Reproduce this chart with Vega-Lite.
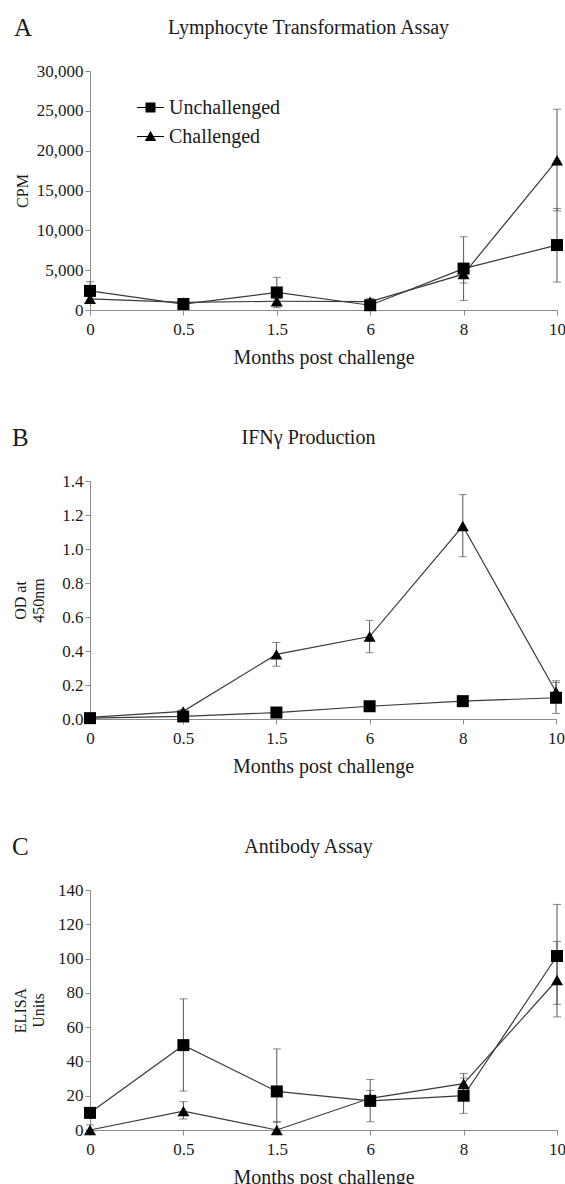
{
  "$schema": "https://vega.github.io/schema/vega-lite/v6.json",
  "padding": {"left": 12, "top": 16, "right": 8, "bottom": 0},
  "background": "white",
  "datasets": {
    "d": [
      {"panel": "A", "month": "0", "group": "Unchallenged", "value": 2400, "lo": 1250, "hi": 3550},
      {"panel": "A", "month": "0.5", "group": "Unchallenged", "value": 750, "lo": 550, "hi": 950},
      {"panel": "A", "month": "1.5", "group": "Unchallenged", "value": 2200, "lo": 300, "hi": 4100},
      {"panel": "A", "month": "6", "group": "Unchallenged", "value": 600, "lo": 300, "hi": 900},
      {"panel": "A", "month": "8", "group": "Unchallenged", "value": 5200, "lo": 1200, "hi": 9200},
      {"panel": "A", "month": "10", "group": "Unchallenged", "value": 8150, "lo": 3500, "hi": 12750},
      {"panel": "A", "month": "0", "group": "Challenged", "value": 1400, "lo": 1100, "hi": 1700},
      {"panel": "A", "month": "0.5", "group": "Challenged", "value": 950, "lo": 650, "hi": 1250},
      {"panel": "A", "month": "1.5", "group": "Challenged", "value": 1100, "lo": 800, "hi": 1400},
      {"panel": "A", "month": "6", "group": "Challenged", "value": 1050, "lo": 650, "hi": 1450},
      {"panel": "A", "month": "8", "group": "Challenged", "value": 4500, "lo": 3400, "hi": 5600},
      {"panel": "A", "month": "10", "group": "Challenged", "value": 18800, "lo": 12450, "hi": 25200},
      {"panel": "B", "month": "0", "group": "Unchallenged", "value": 0.005, "lo": 0.0, "hi": 0.01},
      {"panel": "B", "month": "0.5", "group": "Unchallenged", "value": 0.015, "lo": 0.005, "hi": 0.025},
      {"panel": "B", "month": "1.5", "group": "Unchallenged", "value": 0.038, "lo": 0.028, "hi": 0.048},
      {"panel": "B", "month": "6", "group": "Unchallenged", "value": 0.075, "lo": 0.065, "hi": 0.085},
      {"panel": "B", "month": "8", "group": "Unchallenged", "value": 0.105, "lo": 0.085, "hi": 0.125},
      {"panel": "B", "month": "10", "group": "Unchallenged", "value": 0.125, "lo": 0.033, "hi": 0.215},
      {"panel": "B", "month": "0", "group": "Challenged", "value": 0.01, "lo": 0.005, "hi": 0.015},
      {"panel": "B", "month": "0.5", "group": "Challenged", "value": 0.045, "lo": 0.035, "hi": 0.055},
      {"panel": "B", "month": "1.5", "group": "Challenged", "value": 0.38, "lo": 0.31, "hi": 0.45},
      {"panel": "B", "month": "6", "group": "Challenged", "value": 0.485, "lo": 0.39, "hi": 0.58},
      {"panel": "B", "month": "8", "group": "Challenged", "value": 1.135, "lo": 0.955, "hi": 1.32},
      {"panel": "B", "month": "10", "group": "Challenged", "value": 0.16, "lo": 0.095, "hi": 0.225},
      {"panel": "C", "month": "0", "group": "Unchallenged", "value": 10, "lo": 7, "hi": 13},
      {"panel": "C", "month": "0.5", "group": "Unchallenged", "value": 49.5, "lo": 22.7, "hi": 76.5},
      {"panel": "C", "month": "1.5", "group": "Unchallenged", "value": 22.5, "lo": 4.5, "hi": 47.3},
      {"panel": "C", "month": "6", "group": "Unchallenged", "value": 17, "lo": 4.8, "hi": 29.5},
      {"panel": "C", "month": "8", "group": "Unchallenged", "value": 20, "lo": 9.7, "hi": 30.3},
      {"panel": "C", "month": "10", "group": "Unchallenged", "value": 101.5, "lo": 73.3, "hi": 131.6},
      {"panel": "C", "month": "0", "group": "Challenged", "value": 0, "lo": 0, "hi": 3},
      {"panel": "C", "month": "0.5", "group": "Challenged", "value": 11, "lo": 6.4, "hi": 16.5},
      {"panel": "C", "month": "1.5", "group": "Challenged", "value": 0, "lo": 0, "hi": 5},
      {"panel": "C", "month": "6", "group": "Challenged", "value": 18.5, "lo": 14, "hi": 23},
      {"panel": "C", "month": "8", "group": "Challenged", "value": 27, "lo": 21, "hi": 33},
      {"panel": "C", "month": "10", "group": "Challenged", "value": 87.5, "lo": 66, "hi": 110}
    ]
  },
  "config": {
    "view": {"stroke": null},
    "font": "Liberation Serif",
    "axis": {
      "grid": false,
      "domainColor": "#8c8c8c",
      "tickColor": "#8c8c8c",
      "labelFont": "Liberation Serif",
      "labelFontSize": 17,
      "labelColor": "#1a1a1a",
      "titleFont": "Liberation Serif",
      "titleFontSize": 16,
      "titleFontWeight": "normal",
      "titleColor": "#1a1a1a",
      "tickSize": 5
    },
    "axisX": {"labelAngle": 0, "labelPadding": 6},
    "title": {"font": "Liberation Serif", "fontWeight": "normal", "color": "#1a1a1a"},
    "legend": {"labelFont": "Liberation Serif", "labelColor": "#1a1a1a"}
  },
  "bounds": "flush",
  "spacing": 171,
  "vconcat": [
    {
      "width": 467,
      "height": 239,
      "title": {"text": "A", "anchor": "start", "frame": "bounds", "fontSize": 25, "offset": -24},
      "data": {"name": "d"},
      "transform": [{"filter": "datum.panel == 'A'"}],
      "resolve": {"axis": {"x": "independent"}, "scale": {"shape": "independent"}},
      "layer": [
        {
          "mark": {"type": "line", "color": "#3a3a3a", "strokeWidth": 1.2},
          "encoding": {
            "x": {"field": "month", "type": "ordinal", "sort": ["0", "0.5", "1.5", "6", "8", "10"], "scale": {"type": "point", "padding": 0},
                  "axis": {"orient": "top", "title": "Lymphocyte Transformation Assay", "titleFontSize": 20, "titlePadding": 34, "labels": false, "ticks": false, "domain": false, "titleX": 218}},
            "y": {"field": "value", "type": "quantitative", "scale": {"domain": [0, 30000]}, "title": "CPM",
                  "axis": {"values": [0, 5000, 10000, 15000, 20000, 25000, 30000], "format": ",.0f", "titleX": -60}},
            "detail": {"field": "group"}
          }
        },
        {
          "mark": {"type": "errorbar", "ticks": {"size": 8, "color": "#555555"}, "rule": {"color": "#555555", "strokeWidth": 1}},
          "encoding": {
            "x": {"field": "month", "type": "ordinal", "sort": ["0", "0.5", "1.5", "6", "8", "10"], "axis": null},
            "y": {"field": "lo", "type": "quantitative", "title": "CPM",
                  "axis": {"values": [0, 5000, 10000, 15000, 20000, 25000, 30000], "format": ",.0f", "titleX": -60}},
            "y2": {"field": "hi"}
          }
        },
        {
          "mark": {"type": "point", "filled": true, "color": "black", "opacity": 1, "size": 144},
          "encoding": {
            "x": {"field": "month", "type": "ordinal", "sort": ["0", "0.5", "1.5", "6", "8", "10"],
                  "axis": {"orient": "bottom", "title": "Months post challenge", "titleFontSize": 20, "titlePadding": 10}},
            "y": {"field": "value", "type": "quantitative", "title": "CPM",
                  "axis": {"values": [0, 5000, 10000, 15000, 20000, 25000, 30000], "format": ",.0f", "titleX": -60}},
            "shape": {"field": "group", "type": "nominal", "scale": {"domain": ["Unchallenged", "Challenged"], "range": ["square", "triangle-up"]}, "legend": null}
          }
        },
        {
          "transform": [{"filter": "false"}],
          "mark": {"type": "point", "filled": true, "color": "black", "opacity": 1},
          "encoding": {
            "shape": {"field": "group", "type": "nominal",
                      "scale": {"domain": ["Unchallenged", "Challenged"], "range": ["M-1,-0.045H1V0.045H-1ZM-0.37,-0.37H0.37V0.37H-0.37Z", "M-1,-0.045H1V0.045H-1ZM0,-0.42L0.42,0.33H-0.42Z"]},
                      "legend": {"title": null, "orient": "none", "legendX": 46, "legendY": 22, "labelFontSize": 20, "symbolSize": 729, "rowPadding": 4, "labelOffset": 4,
                                 "symbolFillColor": "black", "symbolOpacity": 1}}
          }
        }
      ]
    },
    {
      "width": 466,
      "height": 238,
      "title": {"text": "B", "anchor": "start", "frame": "bounds", "fontSize": 25, "offset": -24},
      "data": {"name": "d"},
      "transform": [{"filter": "datum.panel == 'B'"}],
      "resolve": {"axis": {"x": "independent"}},
      "layer": [
        {
          "mark": {"type": "line", "color": "#3a3a3a", "strokeWidth": 1.2},
          "encoding": {
            "x": {"field": "month", "type": "ordinal", "sort": ["0", "0.5", "1.5", "6", "8", "10"], "scale": {"type": "point", "padding": 0},
                  "axis": {"orient": "top", "title": "IFNγ Production", "titleFontSize": 20, "titlePadding": 34, "labels": false, "ticks": false, "domain": false, "titleX": 218}},
            "y": {"field": "value", "type": "quantitative", "scale": {"domain": [0, 1.4]}, "title": ["OD at", "450nm"],
                  "axis": {"values": [0, 0.2, 0.4, 0.6, 0.8, 1.0, 1.2, 1.4], "format": ".1f", "titleX": -62}},
            "detail": {"field": "group"}
          }
        },
        {
          "mark": {"type": "errorbar", "ticks": {"size": 8, "color": "#555555"}, "rule": {"color": "#555555", "strokeWidth": 1}},
          "encoding": {
            "x": {"field": "month", "type": "ordinal", "sort": ["0", "0.5", "1.5", "6", "8", "10"], "axis": null},
            "y": {"field": "lo", "type": "quantitative", "title": ["OD at", "450nm"],
                  "axis": {"values": [0, 0.2, 0.4, 0.6, 0.8, 1.0, 1.2, 1.4], "format": ".1f", "titleX": -62}},
            "y2": {"field": "hi"}
          }
        },
        {
          "mark": {"type": "point", "filled": true, "color": "black", "opacity": 1, "size": 144},
          "encoding": {
            "x": {"field": "month", "type": "ordinal", "sort": ["0", "0.5", "1.5", "6", "8", "10"],
                  "axis": {"orient": "bottom", "title": "Months post challenge", "titleFontSize": 20, "titlePadding": 10}},
            "y": {"field": "value", "type": "quantitative", "title": ["OD at", "450nm"],
                  "axis": {"values": [0, 0.2, 0.4, 0.6, 0.8, 1.0, 1.2, 1.4], "format": ".1f", "titleX": -62}},
            "shape": {"field": "group", "type": "nominal", "scale": {"domain": ["Unchallenged", "Challenged"], "range": ["square", "triangle-up"]}, "legend": null}
          }
        }
      ]
    },
    {
      "width": 467,
      "height": 240,
      "title": {"text": "C", "anchor": "start", "frame": "bounds", "fontSize": 25, "offset": -24},
      "data": {"name": "d"},
      "transform": [{"filter": "datum.panel == 'C'"}],
      "resolve": {"axis": {"x": "independent"}},
      "layer": [
        {
          "mark": {"type": "line", "color": "#3a3a3a", "strokeWidth": 1.2},
          "encoding": {
            "x": {"field": "month", "type": "ordinal", "sort": ["0", "0.5", "1.5", "6", "8", "10"], "scale": {"type": "point", "padding": 0},
                  "axis": {"orient": "top", "title": "Antibody Assay", "titleFontSize": 20, "titlePadding": 34, "labels": false, "ticks": false, "domain": false, "titleX": 218}},
            "y": {"field": "value", "type": "quantitative", "scale": {"domain": [0, 140]}, "title": ["ELISA", "Units"],
                  "axis": {"values": [0, 20, 40, 60, 80, 100, 120, 140], "titleX": -62}},
            "detail": {"field": "group"}
          }
        },
        {
          "mark": {"type": "errorbar", "ticks": {"size": 8, "color": "#555555"}, "rule": {"color": "#555555", "strokeWidth": 1}},
          "encoding": {
            "x": {"field": "month", "type": "ordinal", "sort": ["0", "0.5", "1.5", "6", "8", "10"], "axis": null},
            "y": {"field": "lo", "type": "quantitative", "title": ["ELISA", "Units"],
                  "axis": {"values": [0, 20, 40, 60, 80, 100, 120, 140], "titleX": -62}},
            "y2": {"field": "hi"}
          }
        },
        {
          "mark": {"type": "point", "filled": true, "color": "black", "opacity": 1, "size": 144},
          "encoding": {
            "x": {"field": "month", "type": "ordinal", "sort": ["0", "0.5", "1.5", "6", "8", "10"],
                  "axis": {"orient": "bottom", "title": "Months post challenge", "titleFontSize": 20, "titlePadding": 10}},
            "y": {"field": "value", "type": "quantitative", "title": ["ELISA", "Units"],
                  "axis": {"values": [0, 20, 40, 60, 80, 100, 120, 140], "titleX": -62}},
            "shape": {"field": "group", "type": "nominal", "scale": {"domain": ["Unchallenged", "Challenged"], "range": ["square", "triangle-up"]}, "legend": null}
          }
        }
      ]
    }
  ]
}
